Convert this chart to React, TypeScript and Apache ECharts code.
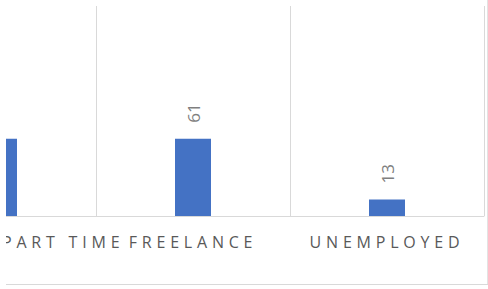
import React, { useEffect, useRef } from "react";
import * as echarts from "echarts";

const categories = ["PART TIME", "FREELANCE", "UNEMPLOYED"];
const values = [61, 61, 13];
const yMax = 166;

const CHART_LEFT = -200; // page x of chart div
const CHART_W = 688;
const H = 289;

export default function App() {
  const ref = useRef<HTMLDivElement>(null);
  useEffect(() => {
    if (!ref.current) return;
    const chart = echarts.init(ref.current, undefined, { renderer: "svg" });
    const px = (x: number) => x - CHART_LEFT;
    chart.setOption({
      animation: false,
      grid: { left: px(-98), right: CHART_W - px(484), top: 6, bottom: H - 216 },
      xAxis: {
        type: "category",
        data: categories.map((c, i) =>
          i === 0 ? { value: c, textStyle: { align: "left", padding: [0, 0, 0, 3] } } : c
        ),
        axisTick: { show: false },
        axisLine: { lineStyle: { color: "#d9d9d9", width: 1 } },
        splitLine: { show: true, interval: 0, lineStyle: { color: "#d9d9d9", width: 1 } },
        axisLabel: {
          interval: 0,
          color: "#595959",
          fontFamily: "Open Sans",
          fontSize: 16,
          margin: 18,
        },
      },
      yAxis: {
        type: "value",
        min: 0,
        max: yMax,
        show: false,
        splitLine: { show: false },
      },
      series: [
        {
          type: "bar",
          data: values.map((v, i) => (i === 0 ? { value: v, label: { show: false } } : v)),
          barWidth: 36,
          itemStyle: { color: "#4472C4" },
          label: {
            show: true,
            position: "top",
            rotate: 90,
            align: "left",
            verticalAlign: "middle",
            distance: 16,
            color: "#7f7f7f",
            fontFamily: "Open Sans",
            fontSize: 17,
          },
        },
      ],
      graphic: [
        {
          type: "line",
          shape: { x1: px(487.5), y1: 0, x2: px(487.5), y2: 284.5 },
          style: { stroke: "#e3e3e3", lineWidth: 1 },
        },
        {
          type: "line",
          shape: { x1: px(6), y1: 284.5, x2: px(488), y2: 284.5 },
          style: { stroke: "#d9d9d9", lineWidth: 1 },
        },
      ],
    });
    ref.current.querySelectorAll("text").forEach((t) => {
      if (categories.includes((t.textContent || "").trim())) {
        t.setAttribute("letter-spacing", "4.8");
      }
    });
    return () => chart.dispose();
  }, []);
  return (
    <div
      style={{
        position: "fixed",
        left: 0,
        top: 0,
        width: 488,
        height: H,
        background: "#fff",
        overflow: "hidden",
      }}
    >
      <div
        style={{
          position: "absolute",
          left: 6,
          top: 0,
          width: 482,
          height: H,
          overflow: "hidden",
        }}
      >
        <div
          ref={ref}
          style={{
            position: "absolute",
            left: CHART_LEFT - 6,
            top: 0,
            width: CHART_W,
            height: H,
          }}
        />
      </div>
    </div>
  );
}
